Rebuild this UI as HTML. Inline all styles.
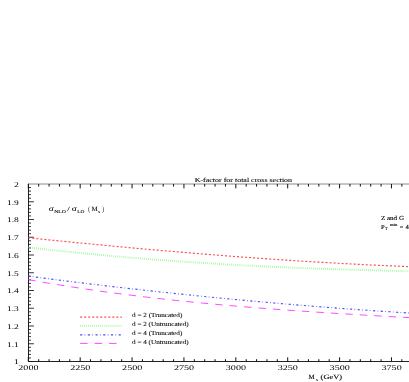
<!DOCTYPE html><html><head><meta charset="utf-8"><style>html,body{margin:0;padding:0;background:#fff}svg{display:block;will-change:transform}text{font-family:"Liberation Serif",serif;fill:#000;text-rendering:geometricPrecision}.s text{stroke:#000;stroke-width:0.08}.s text.b{stroke-width:0.12}.s text.n{stroke:none}</style></head><body>
<svg width="409" height="382" viewBox="0 0 409 382">
<rect width="409" height="382" fill="#fff"/>
<g>
<g stroke="#222" stroke-width="0.9" fill="none">
<path d="M28.5,183.6 V361.5 H409" stroke-width="1"/>
<path d="M28.3,184.0 H409" stroke="#8a8a8a" stroke-width="1"/>
</g>
<path d="M28.30,361.5 v-4.2 M28.30,184.0 v4.4 M38.68,361.5 v-2.3 M38.68,184.0 v2.6 M49.05,361.5 v-2.3 M49.05,184.0 v2.6 M59.43,361.5 v-2.3 M59.43,184.0 v2.6 M69.80,361.5 v-2.3 M69.80,184.0 v2.6 M80.18,361.5 v-4.2 M80.18,184.0 v4.4 M90.56,361.5 v-2.3 M90.56,184.0 v2.6 M100.93,361.5 v-2.3 M100.93,184.0 v2.6 M111.31,361.5 v-2.3 M111.31,184.0 v2.6 M121.68,361.5 v-2.3 M121.68,184.0 v2.6 M132.06,361.5 v-4.2 M132.06,184.0 v4.4 M142.44,361.5 v-2.3 M142.44,184.0 v2.6 M152.81,361.5 v-2.3 M152.81,184.0 v2.6 M163.19,361.5 v-2.3 M163.19,184.0 v2.6 M173.56,361.5 v-2.3 M173.56,184.0 v2.6 M183.94,361.5 v-4.2 M183.94,184.0 v4.4 M194.32,361.5 v-2.3 M194.32,184.0 v2.6 M204.69,361.5 v-2.3 M204.69,184.0 v2.6 M215.07,361.5 v-2.3 M215.07,184.0 v2.6 M225.44,361.5 v-2.3 M225.44,184.0 v2.6 M235.82,361.5 v-4.2 M235.82,184.0 v4.4 M246.20,361.5 v-2.3 M246.20,184.0 v2.6 M256.57,361.5 v-2.3 M256.57,184.0 v2.6 M266.95,361.5 v-2.3 M266.95,184.0 v2.6 M277.32,361.5 v-2.3 M277.32,184.0 v2.6 M287.70,361.5 v-4.2 M287.70,184.0 v4.4 M298.08,361.5 v-2.3 M298.08,184.0 v2.6 M308.45,361.5 v-2.3 M308.45,184.0 v2.6 M318.83,361.5 v-2.3 M318.83,184.0 v2.6 M329.20,361.5 v-2.3 M329.20,184.0 v2.6 M339.58,361.5 v-4.2 M339.58,184.0 v4.4 M349.96,361.5 v-2.3 M349.96,184.0 v2.6 M360.33,361.5 v-2.3 M360.33,184.0 v2.6 M370.71,361.5 v-2.3 M370.71,184.0 v2.6 M381.08,361.5 v-2.3 M381.08,184.0 v2.6 M391.46,361.5 v-4.2 M391.46,184.0 v4.4 M401.84,361.5 v-2.3 M401.84,184.0 v2.6" stroke="#111" stroke-width="1" fill="none"/>
<path d="M28.3,361.50 h5.6 M28.3,357.95 h2.7 M28.3,354.40 h2.7 M28.3,350.85 h2.7 M28.3,347.30 h2.7 M28.3,343.75 h5.6 M28.3,340.20 h2.7 M28.3,336.65 h2.7 M28.3,333.10 h2.7 M28.3,329.55 h2.7 M28.3,326.00 h5.6 M28.3,322.45 h2.7 M28.3,318.90 h2.7 M28.3,315.35 h2.7 M28.3,311.80 h2.7 M28.3,308.25 h5.6 M28.3,304.70 h2.7 M28.3,301.15 h2.7 M28.3,297.60 h2.7 M28.3,294.05 h2.7 M28.3,290.50 h5.6 M28.3,286.95 h2.7 M28.3,283.40 h2.7 M28.3,279.85 h2.7 M28.3,276.30 h2.7 M28.3,272.75 h5.6 M28.3,269.20 h2.7 M28.3,265.65 h2.7 M28.3,262.10 h2.7 M28.3,258.55 h2.7 M28.3,255.00 h5.6 M28.3,251.45 h2.7 M28.3,247.90 h2.7 M28.3,244.35 h2.7 M28.3,240.80 h2.7 M28.3,237.25 h5.6 M28.3,233.70 h2.7 M28.3,230.15 h2.7 M28.3,226.60 h2.7 M28.3,223.05 h2.7 M28.3,219.50 h5.6 M28.3,215.95 h2.7 M28.3,212.40 h2.7 M28.3,208.85 h2.7 M28.3,205.30 h2.7 M28.3,201.75 h5.6 M28.3,198.20 h2.7 M28.3,194.65 h2.7 M28.3,191.10 h2.7 M28.3,187.55 h2.7" stroke="#111" stroke-width="0.85" fill="none"/>
<text x="13.9" y="364" font-size="7.2" textLength="4.9" lengthAdjust="spacingAndGlyphs">1</text>
<text x="6.9" y="347" font-size="7.2" textLength="11.9" lengthAdjust="spacingAndGlyphs">1.1</text>
<text x="6.9" y="329" font-size="7.2" textLength="11.9" lengthAdjust="spacingAndGlyphs">1.2</text>
<text x="6.9" y="311" font-size="7.2" textLength="11.9" lengthAdjust="spacingAndGlyphs">1.3</text>
<text x="6.9" y="293" font-size="7.2" textLength="11.9" lengthAdjust="spacingAndGlyphs">1.4</text>
<text x="6.9" y="276" font-size="7.2" textLength="11.9" lengthAdjust="spacingAndGlyphs">1.5</text>
<text x="6.9" y="258" font-size="7.2" textLength="11.9" lengthAdjust="spacingAndGlyphs">1.6</text>
<text x="6.9" y="240" font-size="7.2" textLength="11.9" lengthAdjust="spacingAndGlyphs">1.7</text>
<text x="6.9" y="222" font-size="7.2" textLength="11.9" lengthAdjust="spacingAndGlyphs">1.8</text>
<text x="6.9" y="205" font-size="7.2" textLength="11.9" lengthAdjust="spacingAndGlyphs">1.9</text>
<text x="13.9" y="187" font-size="7.2" textLength="4.9" lengthAdjust="spacingAndGlyphs">2</text>
<text x="18.3" y="370" font-size="7.2" textLength="20.2" lengthAdjust="spacingAndGlyphs">2000</text>
<text x="70.2" y="370" font-size="7.2" textLength="20.2" lengthAdjust="spacingAndGlyphs">2250</text>
<text x="122.1" y="370" font-size="7.2" textLength="20.2" lengthAdjust="spacingAndGlyphs">2500</text>
<text x="173.9" y="370" font-size="7.2" textLength="20.2" lengthAdjust="spacingAndGlyphs">2750</text>
<text x="225.8" y="370" font-size="7.2" textLength="20.2" lengthAdjust="spacingAndGlyphs">3000</text>
<text x="277.7" y="370" font-size="7.2" textLength="20.2" lengthAdjust="spacingAndGlyphs">3250</text>
<text x="329.6" y="370" font-size="7.2" textLength="20.2" lengthAdjust="spacingAndGlyphs">3500</text>
<text x="381.5" y="370" font-size="7.2" textLength="20.2" lengthAdjust="spacingAndGlyphs">3750</text>
<g class="s">
<text x="194.7" y="182" font-size="6.2" textLength="97.4" lengthAdjust="spacingAndGlyphs">K-factor for total cross section</text>
<path d="M80.1,317.1 H121.9" stroke="#ff4d4d" stroke-width="1.15" stroke-dasharray="2.05,1.98" fill="none"/>
<text x="132.1" y="317" font-size="6.2" textLength="50.2" lengthAdjust="spacingAndGlyphs">d = 2 (Truncated)</text>
<path d="M80.1,325.9 H121.9" stroke="#55f555" stroke-width="1.9" stroke-dasharray="0.5,1.54" fill="none"/>
<text x="132.1" y="326" font-size="6.2" textLength="56.6" lengthAdjust="spacingAndGlyphs">d = 2 (Untruncated)</text>
<path d="M80.1,334.8 H121.9" stroke="#4d4dff" stroke-width="1.15" stroke-dasharray="2.2,2.3,0.7,2.5" fill="none"/>
<text x="132.1" y="335" font-size="6.2" textLength="50.2" lengthAdjust="spacingAndGlyphs">d = 4 (Truncated)</text>
<path d="M80.1,343.4 H121.9" stroke="#ff40ff" stroke-width="0.95" stroke-dasharray="7.5,7" fill="none"/>
<text x="132.1" y="344" font-size="6.2" textLength="56.6" lengthAdjust="spacingAndGlyphs">d = 4 (Untruncated)</text>
<path d="M28.3,237.77 L34.8,238.43 L41.2,239.09 L47.7,239.75 L54.1,240.40 L60.6,241.05 L67.1,241.69 L73.5,242.33 L80.0,242.97 L86.4,243.60 L92.9,244.22 L99.4,244.84 L105.8,245.46 L112.3,246.06 L118.8,246.67 L125.2,247.27 L131.7,247.86 L138.1,248.45 L144.6,249.03 L151.1,249.60 L157.5,250.17 L164.0,250.74 L170.4,251.29 L176.9,251.85 L183.4,252.39 L189.8,252.93 L196.3,253.46 L202.7,253.98 L209.2,254.50 L215.7,255.01 L222.1,255.52 L228.6,256.02 L235.1,256.51 L241.5,256.99 L248.0,257.46 L254.4,257.93 L260.9,258.39 L267.4,258.84 L273.8,259.29 L280.3,259.72 L286.7,260.15 L293.2,260.57 L299.7,260.99 L306.1,261.39 L312.6,261.78 L319.0,262.17 L325.5,262.55 L332.0,262.92 L338.4,263.28 L344.9,263.63 L351.4,263.97 L357.8,264.31 L364.3,264.63 L370.7,264.95 L377.2,265.25 L383.7,265.55 L390.1,265.83 L396.6,266.11 L403.0,266.37 L409.5,266.63" stroke="#ff4d4d" stroke-width="1.15" stroke-dasharray="2.05,1.98" fill="none"/>
<path d="M28.3,247.33 L34.8,248.08 L41.2,248.83 L47.7,249.55 L54.1,250.27 L60.6,250.96 L67.1,251.65 L73.5,252.32 L80.0,252.97 L86.4,253.62 L92.9,254.24 L99.4,254.86 L105.8,255.46 L112.3,256.05 L118.8,256.62 L125.2,257.18 L131.7,257.73 L138.1,258.27 L144.6,258.79 L151.1,259.30 L157.5,259.80 L164.0,260.28 L170.4,260.76 L176.9,261.22 L183.4,261.67 L189.8,262.11 L196.3,262.54 L202.7,262.96 L209.2,263.36 L215.7,263.75 L222.1,264.14 L228.6,264.51 L235.1,264.87 L241.5,265.23 L248.0,265.57 L254.4,265.90 L260.9,266.22 L267.4,266.53 L273.8,266.83 L280.3,267.13 L286.7,267.41 L293.2,267.69 L299.7,267.95 L306.1,268.21 L312.6,268.45 L319.0,268.69 L325.5,268.92 L332.0,269.15 L338.4,269.36 L344.9,269.57 L351.4,269.76 L357.8,269.95 L364.3,270.14 L370.7,270.31 L377.2,270.48 L383.7,270.64 L390.1,270.80 L396.6,270.94 L403.0,271.08 L409.5,271.22" stroke="#55f555" stroke-width="1.9" stroke-dasharray="0.5,1.54" fill="none"/>
<path d="M28.3,276.14 L34.8,276.98 L41.2,277.82 L47.7,278.65 L54.1,279.48 L60.6,280.30 L67.1,281.11 L73.5,281.91 L80.0,282.70 L86.4,283.49 L92.9,284.27 L99.4,285.04 L105.8,285.81 L112.3,286.56 L118.8,287.31 L125.2,288.05 L131.7,288.79 L138.1,289.51 L144.6,290.23 L151.1,290.94 L157.5,291.65 L164.0,292.34 L170.4,293.03 L176.9,293.71 L183.4,294.39 L189.8,295.05 L196.3,295.71 L202.7,296.36 L209.2,297.00 L215.7,297.63 L222.1,298.26 L228.6,298.88 L235.1,299.49 L241.5,300.09 L248.0,300.69 L254.4,301.28 L260.9,301.86 L267.4,302.43 L273.8,302.99 L280.3,303.55 L286.7,304.10 L293.2,304.64 L299.7,305.17 L306.1,305.70 L312.6,306.21 L319.0,306.72 L325.5,307.23 L332.0,307.72 L338.4,308.20 L344.9,308.68 L351.4,309.15 L357.8,309.61 L364.3,310.07 L370.7,310.51 L377.2,310.95 L383.7,311.38 L390.1,311.80 L396.6,312.22 L403.0,312.62 L409.5,313.02" stroke="#4d4dff" stroke-width="1.15" stroke-dasharray="2.2,2.3,0.7,2.5" fill="none"/>
<path d="M28.3,279.63 L34.8,280.78 L41.2,281.91 L47.7,283.02 L54.1,284.09 L60.6,285.15 L67.1,286.18 L73.5,287.19 L80.0,288.18 L86.4,289.14 L92.9,290.08 L99.4,291.00 L105.8,291.90 L112.3,292.77 L118.8,293.63 L125.2,294.47 L131.7,295.28 L138.1,296.08 L144.6,296.86 L151.1,297.62 L157.5,298.36 L164.0,299.09 L170.4,299.80 L176.9,300.49 L183.4,301.16 L189.8,301.82 L196.3,302.46 L202.7,303.09 L209.2,303.71 L215.7,304.30 L222.1,304.89 L228.6,305.46 L235.1,306.02 L241.5,306.57 L248.0,307.10 L254.4,307.62 L260.9,308.13 L267.4,308.63 L273.8,309.12 L280.3,309.60 L286.7,310.07 L293.2,310.53 L299.7,310.98 L306.1,311.42 L312.6,311.86 L319.0,312.28 L325.5,312.70 L332.0,313.11 L338.4,313.52 L344.9,313.92 L351.4,314.31 L357.8,314.70 L364.3,315.09 L370.7,315.46 L377.2,315.84 L383.7,316.21 L390.1,316.58 L396.6,316.95 L403.0,317.31 L409.5,317.67" stroke="#ff40ff" stroke-width="0.95" stroke-dasharray="7.5,7" fill="none"/>
<text x="48.7" y="211" font-size="7.6" textLength="4.9" lengthAdjust="spacingAndGlyphs" class="">σ</text>
<text x="54.2" y="212.6" font-size="4.4" textLength="11.7" lengthAdjust="spacingAndGlyphs" class="">NLO</text>
<text x="67.3" y="211" font-size="6.5" textLength="2.5" lengthAdjust="spacingAndGlyphs" class="">/</text>
<text x="71.8" y="211" font-size="7.6" textLength="4.9" lengthAdjust="spacingAndGlyphs" class="">σ</text>
<text x="77.2" y="212.6" font-size="4.4" textLength="7.1" lengthAdjust="spacingAndGlyphs" class="">LO</text>
<text x="88.2" y="211" font-size="6.5" textLength="1.5" lengthAdjust="spacingAndGlyphs" class="">(</text>
<text x="91.4" y="211" font-size="6.5" textLength="6.2" lengthAdjust="spacingAndGlyphs" class="">M</text>
<text x="98.2" y="212.6" font-size="4.4" textLength="1.8" lengthAdjust="spacingAndGlyphs" class="">s</text>
<text x="102.4" y="211" font-size="6.5" textLength="1.5" lengthAdjust="spacingAndGlyphs" class="">)</text>
<text x="380.9" y="220" font-size="6.2" textLength="23.1" lengthAdjust="spacingAndGlyphs" class="b">Z and G</text>
<text x="380.9" y="229" font-size="6.2" textLength="3.7" lengthAdjust="spacingAndGlyphs" class="b">P</text>
<text x="385.1" y="230" font-size="4.4" textLength="2.6" lengthAdjust="spacingAndGlyphs" class="">T</text>
<text x="390" y="226" font-size="4.0" textLength="7.4" lengthAdjust="spacingAndGlyphs" class="">min</text>
<text x="399.8" y="229" font-size="6.2" textLength="3.4" lengthAdjust="spacingAndGlyphs" class="b">=</text>
<text x="405.4" y="229" font-size="6.2" textLength="3.3" lengthAdjust="spacingAndGlyphs" class="b">4</text>
<text x="308.6" y="379" font-size="6.5" textLength="6.1" lengthAdjust="spacingAndGlyphs" class="b">M</text>
<text x="315.9" y="381" font-size="4.4" textLength="1.8" lengthAdjust="spacingAndGlyphs" class="">s</text>
<text x="320.6" y="379" font-size="6.5" textLength="21.4" lengthAdjust="spacingAndGlyphs" class="b">(GeV)</text>
</g></g></svg></body></html>
